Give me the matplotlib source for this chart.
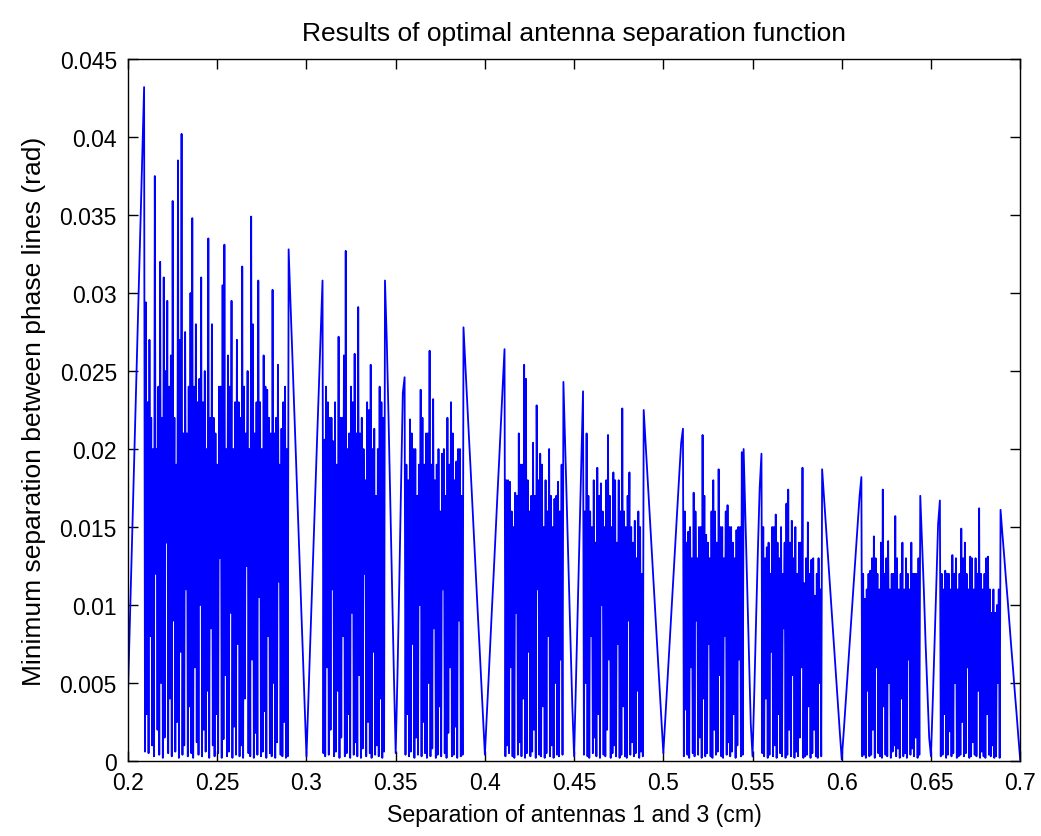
import numpy as np
import matplotlib
matplotlib.use("Agg")
import matplotlib.pyplot as plt

plt.rcParams['font.family'] = ['Liberation Sans', 'DejaVu Sans']
# keep every back-and-forth sample in the dense stretches
plt.rcParams['path.simplify'] = False

# all values in milliradians
# smooth stretches, sampled every 0.001 cm: (start in cm, values)
ramp_020 = (0.200, [4.5, 8.8, 13.1, 17.4, 21.7, 26.0, 30.3, 34.6, 38.9, 43.2])
v_030 = (0.290, [32.8, 29.5, 26.3, 23.0, 19.8, 16.5, 13.3, 10.0, 6.8, 3.5,
                 0.3, 3.7, 7.2, 10.6, 14.0, 17.4, 20.8, 24.1, 27.5, 30.8])
v_035 = (0.344, [30.8, 27.0, 22.0, 16.5, 11.0, 5.5, 0.5, 5.5, 11.3, 17.6, 23.6, 24.6])
v_040 = (0.388, [27.8, 25.5, 23.2, 20.9, 18.7, 16.4, 14.1, 11.8, 9.5, 7.3, 5.0, 2.7,
                 0.4, 2.8, 5.1, 7.5, 9.9, 12.2, 14.6, 17.0, 19.3, 21.7, 24.1, 26.4])
v_045 = (0.444, [24.3, 20.2, 16.0, 11.8, 7.6, 3.5, 0.3, 4.9, 9.6, 14.3, 19.0, 23.7])
v_050 = (0.489, [22.5, 20.5, 18.5, 16.5, 14.5, 12.5, 10.5, 8.5, 6.5, 4.5, 2.5,
                 0.5, 2.5, 4.5, 6.5, 8.5, 10.5, 12.5, 14.5, 16.5, 18.5, 20.4, 21.3])
v_055 = (0.545, [20.0, 15.6, 11.2, 6.8, 2.4, 0.3, 4.5, 9.1, 13.5, 17.5, 19.7])
v_060 = (0.589, [18.7, 17.0, 15.3, 13.6, 11.9, 10.2, 8.5, 6.8, 5.1, 3.4, 1.7,
                 0.1, 1.7, 3.4, 5.1, 6.8, 8.5, 10.2, 11.9, 13.6, 15.3, 17.0, 18.2])
v_065 = (0.644, [17.0, 14.0, 11.0, 7.5, 4.5, 1.5, 0.3, 3.8, 7.5, 11.3, 15.2, 16.7])
v_070 = (0.689, [16.1, 14.6, 13.2, 11.7, 10.3, 8.8, 7.3, 5.9, 4.4, 3.0, 1.5, 0.1])

# dense stretches, dip / peak every 0.0005 cm: (first dip in cm, dips, peaks)
dense_a = (0.2095,
           [0.6, 3.0, 0.5, 8.0, 1.0, 0.3, 12.0, 2.0, 0.4, 5.0,
            0.2, 1.5, 14.0, 0.5, 4.0, 0.3, 9.0, 0.6, 2.5, 0.2,
            7.0, 0.4, 1.0, 11.0, 0.3, 3.5, 0.5, 0.2, 6.0, 1.2,
            0.4, 10.0, 0.3, 2.0, 0.6, 4.5, 0.2, 8.5, 1.0, 0.3,
            3.0, 0.5, 13.0, 0.2, 1.4, 5.5, 0.3, 0.6, 9.5, 0.2,
            2.2, 0.4, 7.5, 0.3, 1.0, 0.2, 4.0, 12.5, 0.5, 0.3,
            6.5, 0.2, 1.8, 0.4, 10.5, 0.3, 0.6, 3.2, 0.2, 8.0,
            0.5, 0.3, 5.0, 0.2, 1.2, 11.5, 0.4, 0.3, 2.5, 0.2, 0.3],
           [29.4, 23.0, 27.0, 22.0, 20.0, 37.5, 20.0, 24.0, 32.0, 22.0,
            31.0, 25.0, 29.5, 24.0, 26.0, 35.9, 22.0, 19.0, 38.5, 27.0,
            40.2, 21.0, 27.5, 21.0, 24.0, 30.0, 34.8, 24.0, 28.0, 23.0,
            24.5, 31.0, 23.0, 25.0, 20.0, 33.5, 22.0, 28.0, 22.0, 21.0,
            19.0, 24.0, 24.0, 30.5, 33.1, 20.0, 26.0, 24.0, 29.5, 20.0,
            23.0, 27.0, 23.0, 22.0, 31.7, 24.0, 21.0, 25.0, 20.0, 34.9,
            28.0, 21.0, 23.0, 30.8, 23.0, 20.0, 26.0, 24.0, 23.8, 22.0,
            21.0, 30.2, 21.0, 22.0, 25.4, 19.0, 21.3, 23.0, 24.0, 20.0])
dense_b1 = (0.3095,
            [0.5, 0.3, 6.0, 0.4, 2.0, 11.0, 0.3, 0.6, 4.5, 0.2,
             1.5, 8.0, 0.3, 0.5, 3.0, 0.2, 9.5, 0.4, 1.2, 0.3,
             5.5, 0.2, 0.8, 12.0, 0.3, 2.5, 0.5, 0.2, 7.0, 0.4,
             1.0, 0.3, 4.0, 0.2, 0.6],
            [20.6, 24.0, 23.0, 22.0, 22.0, 20.5, 23.0, 19.0, 27.2, 22.0,
             22.0, 26.0, 32.7, 20.0, 21.0, 24.0, 23.0, 26.1, 21.0, 29.1,
             21.0, 22.0, 20.0, 18.0, 23.0, 22.5, 25.4, 20.0, 21.3, 17.0,
             20.0, 24.0, 23.0, 22.0])
dense_b2 = (0.3555,
            [0.4, 3.0, 0.3, 0.6, 7.5, 0.2, 1.5, 0.4, 10.0, 0.3,
             2.5, 0.5, 0.2, 5.0, 0.3, 0.8, 8.5, 0.2, 0.4, 3.5,
             0.3, 11.0, 0.5, 0.2, 1.8, 6.0, 0.3, 0.4, 2.2, 0.2,
             9.0, 0.3, 0.4],
            [19.0, 18.0, 21.9, 21.0, 20.0, 20.0, 17.0, 19.0, 23.8, 22.0,
             19.0, 21.0, 21.0, 26.3, 19.0, 23.2, 18.0, 19.0, 20.0, 16.0,
             19.7, 20.0, 17.0, 22.0, 19.0, 23.0, 21.0, 18.0, 19.2, 20.0,
             20.0, 17.0])
dense_c1 = (0.4115,
            [0.3, 1.0, 0.5, 6.0, 0.3, 0.2, 9.5, 0.4, 1.2, 0.3,
             4.0, 0.2, 0.5, 7.0, 0.3, 0.6, 2.0, 0.2, 11.0, 0.4,
             0.3, 3.5, 0.2, 0.5, 8.0, 0.3, 1.0, 0.2, 5.0, 0.4,
             0.3, 6.5, 0.4],
            [18.0, 18.0, 17.9, 16.0, 15.0, 17.2, 17.0, 21.0, 19.0, 19.0,
             25.4, 24.5, 18.0, 16.0, 17.0, 20.4, 17.0, 22.8, 18.0, 19.7,
             19.0, 15.0, 18.0, 16.0, 20.0, 17.0, 15.0, 16.8, 17.0, 17.9,
             16.0, 19.0])
dense_c2 = (0.4555,
            [0.4, 5.0, 0.3, 0.2, 8.0, 0.5, 1.5, 0.3, 3.0, 0.2,
             10.0, 0.4, 0.3, 2.0, 6.5, 0.2, 0.5, 1.0, 0.3, 7.5,
             0.2, 0.4, 3.5, 0.3, 0.2, 9.0, 0.4, 1.2, 0.3, 0.5,
             4.5, 0.2, 0.6, 0.3],
            [16.0, 21.0, 17.0, 16.0, 15.0, 18.0, 14.0, 18.8, 17.0, 17.8,
             16.0, 15.0, 18.0, 20.9, 17.0, 15.0, 18.5, 18.0, 14.0, 18.0,
             16.0, 22.6, 16.0, 15.0, 17.0, 18.5, 15.0, 14.0, 15.4, 13.0,
             16.0, 15.0, 12.0])
dense_d1 = (0.5115,
            [0.3, 3.3, 0.4, 0.2, 6.0, 0.5, 0.3, 9.0, 0.4, 1.5,
             0.2, 4.0, 0.3, 0.5, 7.5, 0.3, 0.2, 2.0, 0.4, 0.6,
             5.5, 0.3, 0.2, 8.0, 0.4, 1.2, 0.3, 0.6, 3.0, 0.2,
             1.0, 6.5, 0.3, 0.4],
            [16.0, 14.0, 14.7, 15.0, 13.0, 17.2, 16.0, 13.0, 15.0, 15.0,
             20.9, 17.0, 14.5, 14.0, 13.0, 16.0, 18.0, 16.0, 14.0, 18.7,
             15.0, 15.0, 13.0, 16.0, 16.4, 15.0, 15.0, 14.0, 13.0, 14.8,
             15.0, 15.0, 19.8])
dense_d2 = (0.5555,
            [0.5, 0.3, 4.0, 0.2, 0.4, 7.0, 0.3, 1.0, 0.2, 3.0,
             0.5, 0.3, 8.5, 0.2, 0.4, 2.0, 0.3, 5.5, 0.2, 0.6,
             0.3, 1.5, 6.0, 0.2, 0.3, 0.4, 3.5, 0.2, 0.5, 2.0,
             0.3, 0.2, 5.0, 0.3],
            [15.0, 13.0, 13.7, 14.0, 12.0, 15.0, 15.0, 15.8, 14.0, 13.0,
             15.0, 12.0, 14.0, 16.5, 17.4, 14.0, 15.4, 13.0, 15.0, 12.0,
             14.0, 14.0, 18.8, 11.4, 13.0, 15.3, 12.0, 12.9, 13.0, 10.6,
             12.0, 13.0, 11.0])
dense_e1 = (0.6115,
            [0.3, 0.4, 0.2, 4.5, 0.3, 0.4, 2.0, 0.2, 6.0, 0.5,
             0.3, 0.2, 3.5, 0.4, 0.3, 5.0, 0.2, 0.6, 1.0, 0.3,
             0.8, 0.2, 4.0, 0.3, 0.5, 0.2, 6.5, 0.4, 0.8, 0.3,
             1.5, 0.2, 0.4],
            [12.0, 10.4, 11.0, 12.0, 12.2, 13.0, 14.4, 13.0, 12.0, 11.0,
             14.0, 17.4, 12.0, 13.0, 14.1, 11.0, 12.0, 12.0, 15.7, 13.0,
             11.0, 12.0, 14.0, 11.0, 13.0, 12.0, 11.0, 14.0, 12.0, 12.0,
             12.0, 13.0])
dense_e2 = (0.6555,
            [0.3, 0.4, 3.0, 0.2, 0.4, 1.9, 0.3, 0.5, 5.0, 0.2,
             0.3, 0.4, 2.5, 0.3, 0.5, 6.0, 0.2, 0.3, 1.2, 0.4,
             0.3, 4.5, 0.2, 0.6, 0.3, 0.2, 3.0, 0.4, 0.3, 1.0,
             0.2, 0.3, 5.0, 0.2],
            [12.0, 11.0, 12.2, 12.0, 12.0, 11.0, 13.2, 12.0, 13.0, 11.0,
             12.0, 14.9, 13.0, 14.0, 12.0, 11.0, 13.1, 13.0, 11.0, 13.0,
             12.0, 16.2, 12.0, 11.0, 12.0, 13.0, 13.1, 11.0, 9.5, 11.0,
             9.5, 10.0, 11.0])

pieces = [ramp_020, dense_a, v_030, dense_b1, v_035, dense_b2, v_040,
          dense_c1, v_045, dense_c2, v_050, dense_d1, v_055, dense_d2,
          v_060, dense_e1, v_065, dense_e2, v_070]

xs, ys = [], []
for p in pieces:
    if len(p) == 2:
        x0, vals = p
        xs.append(x0 + 0.001 * np.arange(len(vals)))
        ys.append(np.array(vals))
    else:
        x0, dips, peaks = p
        assert len(dips) == len(peaks) + 1
        y = np.empty(2 * len(peaks) + 1)
        y[0::2] = dips
        y[1::2] = peaks
        xs.append(x0 + 0.0005 * np.arange(len(y)))
        ys.append(y)
d13 = np.concatenate(xs)
min_sep = np.concatenate(ys) / 1000.0

xticks = [0.2, 0.25, 0.3, 0.35, 0.4, 0.45, 0.5, 0.55, 0.6, 0.65, 0.7]
xtick_labels = ["0.2", "0.25", "0.3", "0.35", "0.4", "0.45", "0.5", "0.55", "0.6", "0.65", "0.7"]
yticks = [0, 0.005, 0.01, 0.015, 0.02, 0.025, 0.03, 0.035, 0.04, 0.045]
ytick_labels = ["0", "0.005", "0.01", "0.015", "0.02", "0.025", "0.03", "0.035", "0.04", "0.045"]

fig = plt.figure(figsize=(10.41, 8.37), dpi=100)
ax = fig.add_axes([0.123, 0.0896, 0.857, 0.8387])

ax.plot(d13, min_sep, color="#0000ff", linewidth=1.3)

ax.set_xlim(0.2, 0.7)
ax.set_ylim(0, 0.045)
ax.set_xticks(xticks)
ax.set_xticklabels(xtick_labels)
ax.set_yticks(yticks)
ax.set_yticklabels(ytick_labels)
ax.tick_params(axis='both', direction='in', top=True, right=True,
               length=7, width=1, labelsize=16.5)
ax.tick_params(axis='x', pad=7)
ax.tick_params(axis='y', pad=8)
for s in ax.spines.values():
    s.set_linewidth(1)

ax.set_title("Results of optimal antenna separation function", fontsize=19, pad=14)
ax.set_xlabel("Separation of antennas 1 and 3 (cm)", fontsize=16.7, labelpad=7)
ax.set_ylabel("Minimum separation between phase lines (rad)", fontsize=19, labelpad=10)

fig.savefig("out.png", dpi=100)
